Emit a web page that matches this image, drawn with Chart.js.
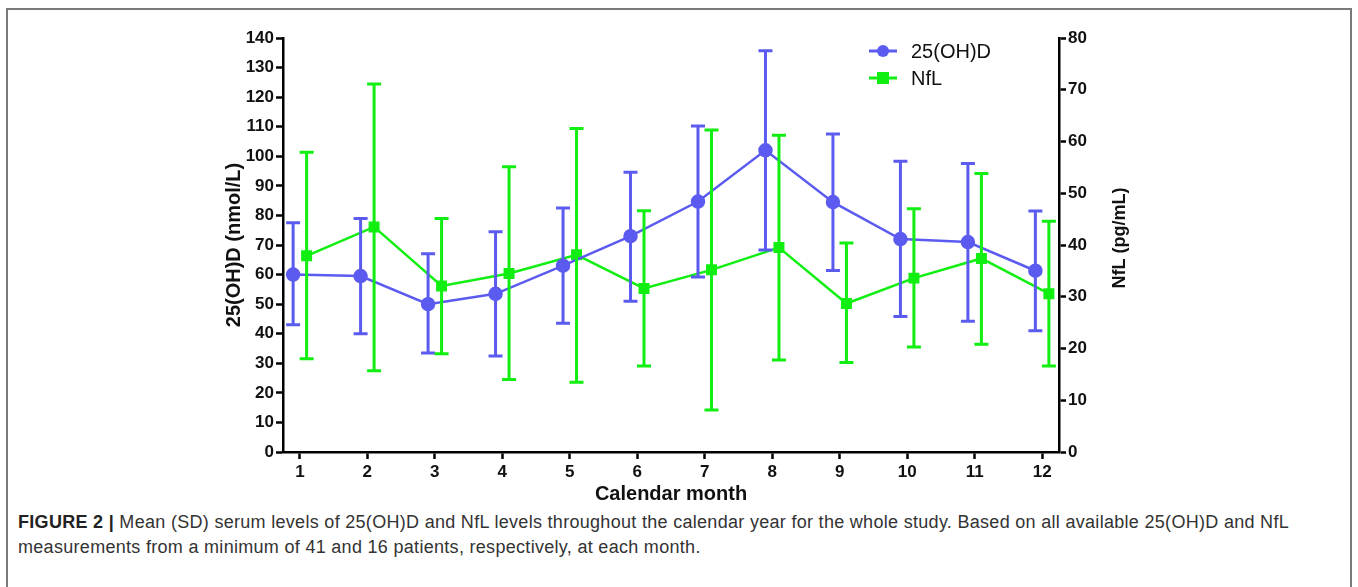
<!DOCTYPE html>
<html>
<head>
<meta charset="utf-8">
<script src="https://cdn.jsdelivr.net/npm/chart.js@4.4.1/dist/chart.umd.min.js"></script>
<style>
  html, body { margin: 0; padding: 0; background: #fff; }
  body { width: 1358px; height: 587px; position: relative; overflow: hidden; }
  #frame {
    position: absolute; left: 6px; top: 8px; width: 1346px; height: 590px;
    border: 2px solid #7a7a7a; box-sizing: border-box;
  }
  #wrap { position: absolute; left: 0; top: 0; width: 1358px; height: 510px; }
  #caption {
    position: absolute; left: 18px; top: 510px; width: 1330px;
    font-family: "Liberation Sans", Arial, sans-serif;
    font-size: 18px; letter-spacing: 0.3px; line-height: 25px; color: #333;
    white-space: nowrap;
  }
  #caption b { font-weight: bold; color: #222; }
</style>
</head>
<body>
<div id="frame"></div>
<div id="wrap"><canvas id="chart" width="1358" height="510"></canvas></div>
<div id="caption"><b>FIGURE 2 |</b> Mean (SD) serum levels of 25(OH)D and NfL levels throughout the calendar year for the whole study. Based on all available 25(OH)D and NfL<br>measurements from a minimum of 41 and 16 patients, respectively, at each month.</div>
<script>
// --- data ---
const months = [1, 2, 3, 4, 5, 6, 7, 8, 9, 10, 11, 12];

const vitD     = [60, 59.5, 50, 53.5, 63, 73, 84.7, 102, 84.5, 72, 71, 61.3];
const vitDLow  = [43, 40, 33.5, 32.5, 43.5, 51, 59.2, 68.3, 61.4, 45.8, 44.2, 41];
const vitDHigh = [77.5, 79, 67, 74.5, 82.5, 94.6, 110.2, 135.7, 107.5, 98.3, 97.6, 81.5];

const nfl      = [37.9, 43.5, 32.1, 34.5, 38.1, 31.6, 35.2, 39.5, 28.7, 33.6, 37.4, 30.6];
const nflLow   = [18, 15.7, 19, 14, 13.5, 16.6, 8.1, 17.8, 17.3, 20.3, 20.8, 16.6];
const nflHigh  = [57.9, 71.1, 45.1, 55.1, 62.5, 46.6, 62.2, 61.2, 40.4, 47, 53.8, 44.6];

const leftTicks = [0, 10, 20, 30, 40, 50, 60, 70, 80, 90, 100, 110, 120, 130, 140];
const rightTicks = [0, 10, 20, 30, 40, 50, 60, 70, 80];

const BLUE = "#5b5bf0";
const GREEN = "#11ee11";
const shift = 0.1; // blue drawn left of month, green right
const FONT = "'Liberation Sans', Arial, sans-serif";

// --- error bars, right axis title and legend ---
const extras = {
    id: "extras",
    afterDatasetsDraw(chart) {
        const ctx = chart.ctx;
        const x = chart.scales.x;
        const sets = [
            { lo: vitDLow, hi: vitDHigh, y: chart.scales.y, dx: -shift, color: BLUE },
            { lo: nflLow, hi: nflHigh, y: chart.scales.y2, dx: shift, color: GREEN }
        ];
        ctx.save();
        sets.forEach(s => {
            ctx.strokeStyle = s.color;
            ctx.lineWidth = 3;
            months.forEach((m, i) => {
                const px = x.getPixelForValue(m + s.dx);
                const y1 = s.y.getPixelForValue(s.lo[i]);
                const y2 = s.y.getPixelForValue(s.hi[i]);
                ctx.beginPath();
                ctx.moveTo(px, y1); ctx.lineTo(px, y2);
                ctx.moveTo(px - 7, y1); ctx.lineTo(px + 7, y1);
                ctx.moveTo(px - 7, y2); ctx.lineTo(px + 7, y2);
                ctx.stroke();
            });
        });

        // right axis title, reading bottom to top like the left one
        ctx.fillStyle = "#111";
        ctx.font = "bold 18px " + FONT;
        ctx.textAlign = "center";
        ctx.textBaseline = "middle";
        ctx.translate(1120, 238);
        ctx.rotate(-Math.PI / 2);
        ctx.fillText("NfL (pg/mL)", 0, 0);
        ctx.setTransform(1, 0, 0, 1, 0, 0);

        // legend
        const items = [
            { label: "25(OH)D", color: BLUE, square: false, y: 51 },
            { label: "NfL", color: GREEN, square: true, y: 78 }
        ];
        ctx.font = "20px " + FONT;
        ctx.textAlign = "left";
        items.forEach(it => {
            ctx.strokeStyle = it.color;
            ctx.fillStyle = it.color;
            ctx.lineWidth = 3;
            ctx.beginPath();
            ctx.moveTo(869, it.y); ctx.lineTo(897, it.y);
            ctx.stroke();
            if (it.square) ctx.fillRect(883 - 6, it.y - 6, 12, 12);
            else { ctx.beginPath(); ctx.arc(883, it.y, 6, 0, Math.PI * 2); ctx.fill(); }
            ctx.fillStyle = "#111";
            ctx.fillText(it.label, 911, it.y + 1);
        });
        ctx.restore();
    }
};

const tickFont = { family: FONT, size: 17, weight: "bold" };
const axisBorder = { display: true, color: "#000", width: 2.5 };
const axisGrid = { drawOnChartArea: false, drawTicks: true, tickLength: 7, tickWidth: 2.5, tickColor: "#000" };

new Chart(document.getElementById("chart"), {
    type: "line",
    data: {
        datasets: [
            {
                label: "25(OH)D",
                data: months.map((m, i) => ({ x: m - shift, y: vitD[i] })),
                yAxisID: "y",
                borderColor: BLUE, backgroundColor: BLUE,
                borderWidth: 2.5, pointStyle: "circle", pointRadius: 6, pointHoverRadius: 6
            },
            {
                label: "NfL",
                data: months.map((m, i) => ({ x: m + shift, y: nfl[i] })),
                yAxisID: "y2",
                borderColor: GREEN, backgroundColor: GREEN,
                borderWidth: 2.5, pointStyle: "rect", pointRadius: 6, pointHoverRadius: 6
            }
        ]
    },
    options: {
        responsive: false,
        animation: false,
        events: [],
        layout: { padding: { top: 38, left: 0, right: 0, bottom: 0 } },
        plugins: { legend: { display: false }, tooltip: { enabled: false } },
        scales: {
            x: {
                type: "linear", min: 0.75, max: 12.25,
                border: axisBorder, grid: axisGrid,
                afterBuildTicks: s => { s.ticks = months.map(v => ({ value: v })); },
                afterFit: s => { s.height = 58; },
                ticks: { color: "#111", font: tickFont, padding: 3, maxRotation: 0 },
                title: {
                    display: true, text: "Calendar month", color: "#111",
                    font: { family: FONT, size: 20, weight: "bold" },
                    padding: { top: 0, bottom: 4 }
                }
            },
            y: {
                position: "left", min: 0, max: 140,
                border: axisBorder, grid: axisGrid,
                afterBuildTicks: s => { s.ticks = leftTicks.map(v => ({ value: v })); },
                afterFit: s => { s.width = 283; },
                ticks: { color: "#111", font: tickFont, padding: 2 },
                title: {
                    display: true, text: "25(OH)D (nmol/L)", color: "#111",
                    font: { family: FONT, size: 20, weight: "bold" },
                    padding: { top: 222, bottom: 0 }
                }
            },
            y2: {
                position: "right", min: 0, max: 80,
                border: axisBorder, grid: axisGrid,
                afterBuildTicks: s => { s.ticks = rightTicks.map(v => ({ value: v })); },
                afterFit: s => { s.width = 1358 - 1059; },
                ticks: { color: "#111", font: tickFont, padding: 2 }
            }
        }
    },
    plugins: [extras]
});
</script>
</body>
</html>
